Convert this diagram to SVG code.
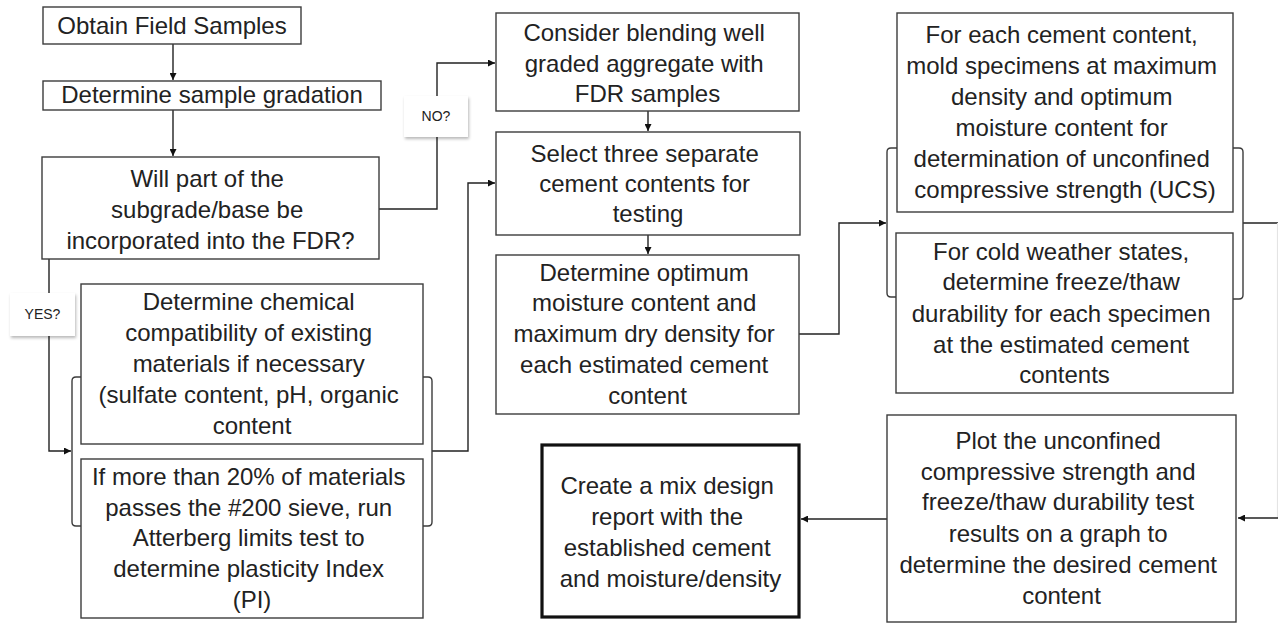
<svg xmlns="http://www.w3.org/2000/svg" width="1278" height="623" viewBox="0 0 1278 623">
  <style>
    .box { fill: #ffffff; stroke: #3c3c3c; stroke-width: 1.4; }
    .final { fill: #ffffff; stroke: #111111; stroke-width: 3.2; }
    .lbl { font-family: "Liberation Sans", Arial, sans-serif; font-size: 24px; fill: #222222; text-anchor: middle; }
    .tag { fill: #ffffff; stroke: none; }
    .tagtxt { font-family: "Liberation Sans", Arial, sans-serif; font-size: 14px; fill: #222222; text-anchor: middle; }
    .wire { fill: none; stroke: #222222; stroke-width: 1.4; }
    .wire-faint { fill: none; stroke: #e4e4e4; stroke-width: 1.2; }
    .brace { fill: none; stroke: #3c3c3c; stroke-width: 1.4; }
  </style>
  <defs>
    <marker id="arrow" viewBox="0 0 10 10" refX="10" refY="5" markerWidth="7" markerHeight="7" markerUnits="userSpaceOnUse" orient="auto">
      <path d="M0,0 L10,5 L0,10 z" fill="#111111"/>
    </marker>
    <filter id="shadow" x="-20%" y="-20%" width="150%" height="160%">
      <feDropShadow dx="1" dy="2" stdDeviation="1.6" flood-color="#000000" flood-opacity="0.28"/>
    </filter>
  </defs>

  <rect width="1278" height="623" fill="#ffffff"/>

  <!-- connectors -->
  <g id="connectors">
    <path class="wire" d="M173,44 V80" marker-end="url(#arrow)"/>
    <path class="wire" d="M173,110 V156" marker-end="url(#arrow)"/>
    <path class="wire" d="M379,209 H437 V63 H495" marker-end="url(#arrow)"/>
    <path class="wire" d="M648,111 V131" marker-end="url(#arrow)"/>
    <path class="wire" d="M648,235 V254" marker-end="url(#arrow)"/>
    <path class="wire" d="M49,259 V451 H71" marker-end="url(#arrow)"/>
    <path class="wire" d="M432,451 H468 V183 H495" marker-end="url(#arrow)"/>
    <path class="wire" d="M799,334 H839 V223 H886" marker-end="url(#arrow)"/>
    <!-- return run along the right margin -->
    <path class="wire" d="M1243,223 H1278"/>
    <path class="wire-faint" d="M1277.5,223 V518"/>
    <path class="wire" d="M1278,518 H1238" marker-end="url(#arrow)"/>
    <path class="wire" d="M887,519 H801" marker-end="url(#arrow)"/>
    <!-- group braces -->
    <path class="brace" d="M81,377 H76 Q72,377 72,381 V522 Q72,526 76,526 H81"/>
    <path class="brace" d="M423,377 H428 Q432,377 432,381 V522 Q432,526 428,526 H423"/>
    <path class="brace" d="M897,148 H891 Q887,148 887,152 V293 Q887,297 891,297 H897"/>
    <path class="brace" d="M1233,148 H1239 Q1243,148 1243,152 V295 Q1243,299 1239,299 H1233"/>
  </g>

  <!-- decision labels -->
  <g id="label-no">
    <rect class="tag" x="404" y="96" width="64" height="41" filter="url(#shadow)"/>
    <text class="tagtxt" x="436" y="121">NO?</text>
  </g>
  <g id="label-yes">
    <rect class="tag" x="10" y="293" width="65" height="43" filter="url(#shadow)"/>
    <text class="tagtxt" x="42.5" y="319">YES?</text>
  </g>

  <g id="obtain">
    <rect class="box" x="43" y="7" width="258" height="37"/>
    <text class="lbl" x="172" y="34">Obtain Field Samples</text>
  </g>

  <g id="gradation">
    <rect class="box" x="43" y="81" width="338" height="29"/>
    <text class="lbl" x="212" y="103">Determine sample gradation</text>
  </g>

  <g id="decision">
    <rect class="box" x="42" y="157" width="337" height="102"/>
    <text class="lbl">
      <tspan x="210.5" y="187">Will part of the</tspan>
      <tspan x="210.5" y="218">subgrade/base be</tspan>
      <tspan x="210.5" y="249">incorporated into the FDR?</tspan>
    </text>
  </g>

  <g id="blend">
    <rect class="box" x="496" y="13" width="303" height="98"/>
    <text class="lbl">
      <tspan x="647.5" y="41">Consider blending well</tspan>
      <tspan x="647.5" y="72">graded aggregate with</tspan>
      <tspan x="647.5" y="102">FDR samples</tspan>
    </text>
  </g>

  <g id="select">
    <rect class="box" x="496" y="132" width="304" height="103"/>
    <text class="lbl">
      <tspan x="648" y="162">Select three separate</tspan>
      <tspan x="648" y="192">cement contents for</tspan>
      <tspan x="648" y="222">testing</tspan>
    </text>
  </g>

  <g id="optimum">
    <rect class="box" x="496" y="255" width="303" height="159"/>
    <text class="lbl">
      <tspan x="647.5" y="281">Determine optimum</tspan>
      <tspan x="647.5" y="311">moisture content and</tspan>
      <tspan x="647.5" y="342">maximum dry density for</tspan>
      <tspan x="647.5" y="373">each estimated cement</tspan>
      <tspan x="647.5" y="404">content</tspan>
    </text>
  </g>

  <g id="chemical">
    <rect class="box" x="81" y="284" width="342" height="160"/>
    <text class="lbl">
      <tspan x="252" y="310">Determine chemical</tspan>
      <tspan x="252" y="341">compatibility of existing</tspan>
      <tspan x="252" y="372">materials if necessary</tspan>
      <tspan x="252" y="403">(sulfate content, pH, organic</tspan>
      <tspan x="252" y="434">content</tspan>
    </text>
  </g>

  <g id="plasticity">
    <rect class="box" x="81" y="459" width="342" height="159"/>
    <text class="lbl">
      <tspan x="252" y="485">If more than 20% of materials</tspan>
      <tspan x="252" y="516">passes the #200 sieve, run</tspan>
      <tspan x="252" y="546">Atterberg limits test to</tspan>
      <tspan x="252" y="577">determine plasticity Index</tspan>
      <tspan x="252" y="608">(PI)</tspan>
    </text>
  </g>

  <g id="ucs">
    <rect class="box" x="897" y="13" width="336" height="199"/>
    <text class="lbl">
      <tspan x="1065" y="43">For each cement content,</tspan>
      <tspan x="1065" y="74">mold specimens at maximum</tspan>
      <tspan x="1065" y="105">density and optimum</tspan>
      <tspan x="1065" y="136">moisture content for</tspan>
      <tspan x="1065" y="167">determination of unconfined</tspan>
      <tspan x="1065" y="198">compressive strength (UCS)</tspan>
    </text>
  </g>

  <g id="freeze-thaw">
    <rect class="box" x="896" y="233" width="337" height="160"/>
    <text class="lbl">
      <tspan x="1064.5" y="260">For cold weather states,</tspan>
      <tspan x="1064.5" y="290">determine freeze/thaw</tspan>
      <tspan x="1064.5" y="322">durability for each specimen</tspan>
      <tspan x="1064.5" y="353">at the estimated cement</tspan>
      <tspan x="1064.5" y="383">contents</tspan>
    </text>
  </g>

  <g id="plot">
    <rect class="box" x="887" y="415" width="349" height="207"/>
    <text class="lbl">
      <tspan x="1061.5" y="449">Plot the unconfined</tspan>
      <tspan x="1061.5" y="480">compressive strength and</tspan>
      <tspan x="1061.5" y="510">freeze/thaw durability test</tspan>
      <tspan x="1061.5" y="542">results on a graph to</tspan>
      <tspan x="1061.5" y="573">determine the desired cement</tspan>
      <tspan x="1061.5" y="604">content</tspan>
    </text>
  </g>

  <g id="report">
    <rect class="final" x="542" y="445" width="257" height="172"/>
    <text class="lbl">
      <tspan x="670.5" y="494">Create a mix design</tspan>
      <tspan x="670.5" y="525">report with the</tspan>
      <tspan x="670.5" y="556">established cement</tspan>
      <tspan x="670.5" y="587">and moisture/density</tspan>
    </text>
  </g>
</svg>
